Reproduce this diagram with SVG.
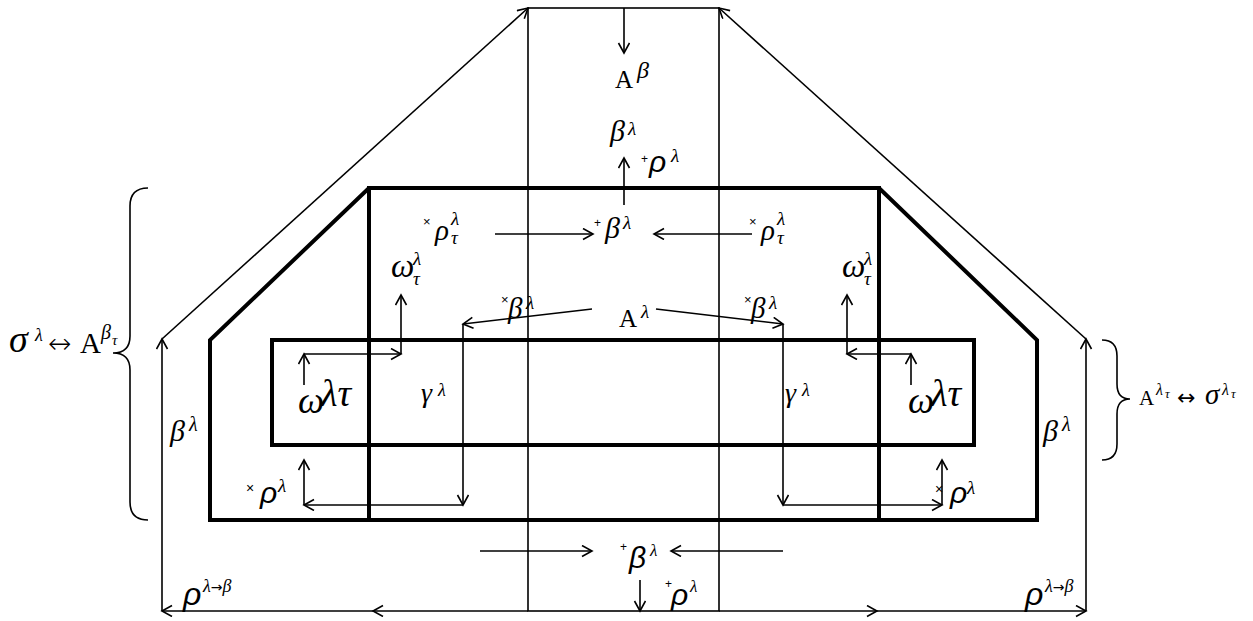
<svg xmlns="http://www.w3.org/2000/svg" width="1253" height="621" viewBox="0 0 1253 621">
<style>
.thin{fill:none;stroke:#000;stroke-width:1.6}
.thick{fill:none;stroke:#000;stroke-width:4}
.ar{fill:none;stroke:#000;stroke-width:1.6;marker-end:url(#ah)}
text{font-family:"Liberation Serif","Times New Roman",serif;fill:#000}
.i{font-style:italic}
.ss{font-family:"Liberation Sans",Arial,sans-serif;font-style:italic}
.up{font-family:"Liberation Sans",Arial,sans-serif}
.sym{font-family:"DejaVu Sans",sans-serif}
</style>
<defs>
<marker id="ah" markerUnits="userSpaceOnUse" markerWidth="14" markerHeight="14" refX="11" refY="6" orient="auto">
<path d="M1,0.5 L11,6 L1,11.5" fill="none" stroke="#000" stroke-width="1.6"/>
</marker>
</defs>
<rect width="1253" height="621" fill="#fff"/>

<g id="frames">
<polygon class="thick" points="210,520 210,340 369,188 879,188 1037,340 1037,520"/>
<rect class="thick" x="369" y="188" width="510" height="332"/>
<rect class="thick" x="272" y="340" width="702" height="105"/>
<rect class="thin" x="528" y="8" width="191" height="603"/>
</g>

<g id="connectors">
<line class="ar" x1="624" y1="8" x2="624" y2="53"/>
<line class="ar" x1="624" y1="205" x2="624" y2="158"/>
<line class="ar" x1="495" y1="234" x2="593" y2="234"/>
<line class="ar" x1="752" y1="234" x2="654" y2="234"/>
<line class="ar" x1="304" y1="385" x2="304" y2="354"/>
<line class="ar" x1="304" y1="354" x2="401" y2="354"/>
<line class="ar" x1="401" y1="354" x2="401" y2="295"/>
<line class="ar" x1="911" y1="385" x2="911" y2="354"/>
<line class="ar" x1="911" y1="354" x2="847" y2="354"/>
<line class="ar" x1="847" y1="354" x2="847" y2="295"/>
<line class="ar" x1="592" y1="309" x2="463" y2="324"/>
<line class="ar" x1="463" y1="324" x2="463" y2="505"/>
<line class="ar" x1="463" y1="505" x2="304" y2="505"/>
<line class="ar" x1="304" y1="505" x2="304" y2="460"/>
<line class="ar" x1="656" y1="309" x2="783" y2="324"/>
<line class="ar" x1="783" y1="324" x2="783" y2="505"/>
<line class="ar" x1="783" y1="505" x2="942" y2="505"/>
<line class="ar" x1="942" y1="505" x2="942" y2="460"/>
<line class="ar" x1="480" y1="551" x2="592" y2="551"/>
<line class="ar" x1="783" y1="551" x2="671" y2="551"/>
<line class="ar" x1="640" y1="580" x2="640" y2="611"/>
<line class="ar" x1="162" y1="611" x2="162" y2="339"/>
<line class="ar" x1="162" y1="339" x2="528" y2="8"/>
<line class="ar" x1="1086" y1="611" x2="1086" y2="339"/>
<line class="ar" x1="1086" y1="339" x2="719" y2="8"/>
<line class="ar" x1="528" y1="611" x2="373" y2="611"/>
<line class="ar" x1="373" y1="611" x2="162" y2="611"/>
<line class="ar" x1="719" y1="611" x2="877" y2="611"/>
<line class="ar" x1="877" y1="611" x2="1086" y2="611"/>
<path class="thin" d="M148,188 Q130,188 130,206 L130,336 Q130,353 113,353 Q130,353 130,370 L130,502 Q130,520 148,520"/>
<path class="thin" d="M1102,340 Q1117,340 1117,356 L1117,384 Q1117,399 1130,399 Q1117,399 1117,414 L1117,444 Q1117,460 1102,460"/>
</g>

<g id="labels">
<text x="615" y="88" font-size="25">A</text><text class="i" x="637" y="78" font-size="24">β</text>
<text class="i" x="610" y="141" font-size="30">β</text><text class="i" x="628" y="135" font-size="19">λ</text>
<text class="up" x="641" y="163" font-size="12">+</text><text class="ss" x="649" y="172" font-size="30">ρ</text><text class="i" x="671" y="162" font-size="19">λ</text>

<text class="up" x="423" y="226" font-size="13">×</text><text class="i" x="435" y="240" font-size="29">ρ</text><text class="i" x="451" y="225" font-size="19">λ</text><text class="i" x="451" y="244" font-size="19">τ</text>
<text class="up" x="594" y="227" font-size="12">+</text><text class="i" x="605" y="238" font-size="30">β</text><text class="i" x="623" y="229" font-size="19">λ</text>
<text class="up" x="749" y="226" font-size="13">×</text><text class="i" x="761" y="240" font-size="29">ρ</text><text class="i" x="777" y="225" font-size="19">λ</text><text class="i" x="777" y="244" font-size="19">τ</text>

<text class="i" x="391" y="277" font-size="33">ω</text><text class="i" x="413" y="265" font-size="19">λ</text><text class="i" x="413" y="285" font-size="19">τ</text>
<text class="i" x="842" y="277" font-size="33">ω</text><text class="i" x="864" y="265" font-size="19">λ</text><text class="i" x="864" y="285" font-size="19">τ</text>

<text class="up" x="501" y="304" font-size="13">×</text><text class="i" x="508" y="318" font-size="29">β</text><text class="i" x="526" y="309" font-size="19">λ</text>
<text class="up" x="744" y="304" font-size="13">×</text><text class="i" x="751" y="318" font-size="29">β</text><text class="i" x="769" y="309" font-size="19">λ</text>
<text x="619" y="327" font-size="25">A</text><text class="i" x="641" y="318" font-size="19">λ</text>

<text class="i" x="298" y="413" font-size="37">ω</text><text class="i" x="321" y="406" font-size="38">λτ</text>
<text class="i" x="908" y="413" font-size="37">ω</text><text class="i" x="931" y="406" font-size="38">λτ</text>
<text class="i" x="421" y="402" font-size="28">γ</text><text class="i" x="438" y="396" font-size="18">λ</text>
<text class="i" x="785" y="402" font-size="28">γ</text><text class="i" x="802" y="396" font-size="18">λ</text>

<text class="i" x="170" y="441" font-size="30">β</text><text class="i" x="189" y="431" font-size="20">λ</text>
<text class="i" x="1043" y="441" font-size="30">β</text><text class="i" x="1062" y="431" font-size="20">λ</text>

<text class="up" x="246" y="493" font-size="14">×</text><text class="ss" x="260" y="503" font-size="30">ρ</text><text class="i" x="278" y="492" font-size="19">λ</text>
<text class="up" x="935" y="494" font-size="14">×</text><text class="ss" x="950" y="503" font-size="30">ρ</text><text class="i" x="967" y="494" font-size="19">λ</text>

<text class="i" x="9" y="352" font-size="38">σ</text><text class="i" x="35" y="341" font-size="18">λ</text>
<text class="sym" x="48" y="353" font-size="28" font-weight="300">↔</text>
<text x="80" y="353" font-size="29">A</text><text class="i" x="101" y="339" font-size="20">β</text><text class="i" x="112" y="345" font-size="15">τ</text>

<text x="1139" y="405" font-size="21">A</text><text class="i" x="1156" y="395" font-size="16">λ</text><text class="i" x="1165" y="398" font-size="13">τ</text>
<text class="sym" x="1177" y="405" font-size="22">↔</text>
<text class="i" x="1205" y="404" font-size="29">σ</text><text class="i" x="1222" y="395" font-size="16">λ</text><text class="i" x="1231" y="398" font-size="13">τ</text>

<text class="up" x="620" y="551" font-size="12">+</text><text class="ss" x="629" y="568" font-size="30">β</text><text class="i" x="650" y="556" font-size="17">λ</text>
<text class="up" x="665" y="588" font-size="12">+</text><text class="ss" x="671" y="605" font-size="30">ρ</text><text class="i" x="690" y="592" font-size="17">λ</text>

<text class="ss" x="183" y="605" font-size="32">ρ</text><text class="i" x="203" y="592" font-size="18">λ<tspan class="sym" font-style="normal" font-size="14">→</tspan>β</text>
<text class="ss" x="1025" y="605" font-size="32">ρ</text><text class="i" x="1045" y="592" font-size="18">λ<tspan class="sym" font-style="normal" font-size="14">→</tspan>β</text>
</g>
</svg>
